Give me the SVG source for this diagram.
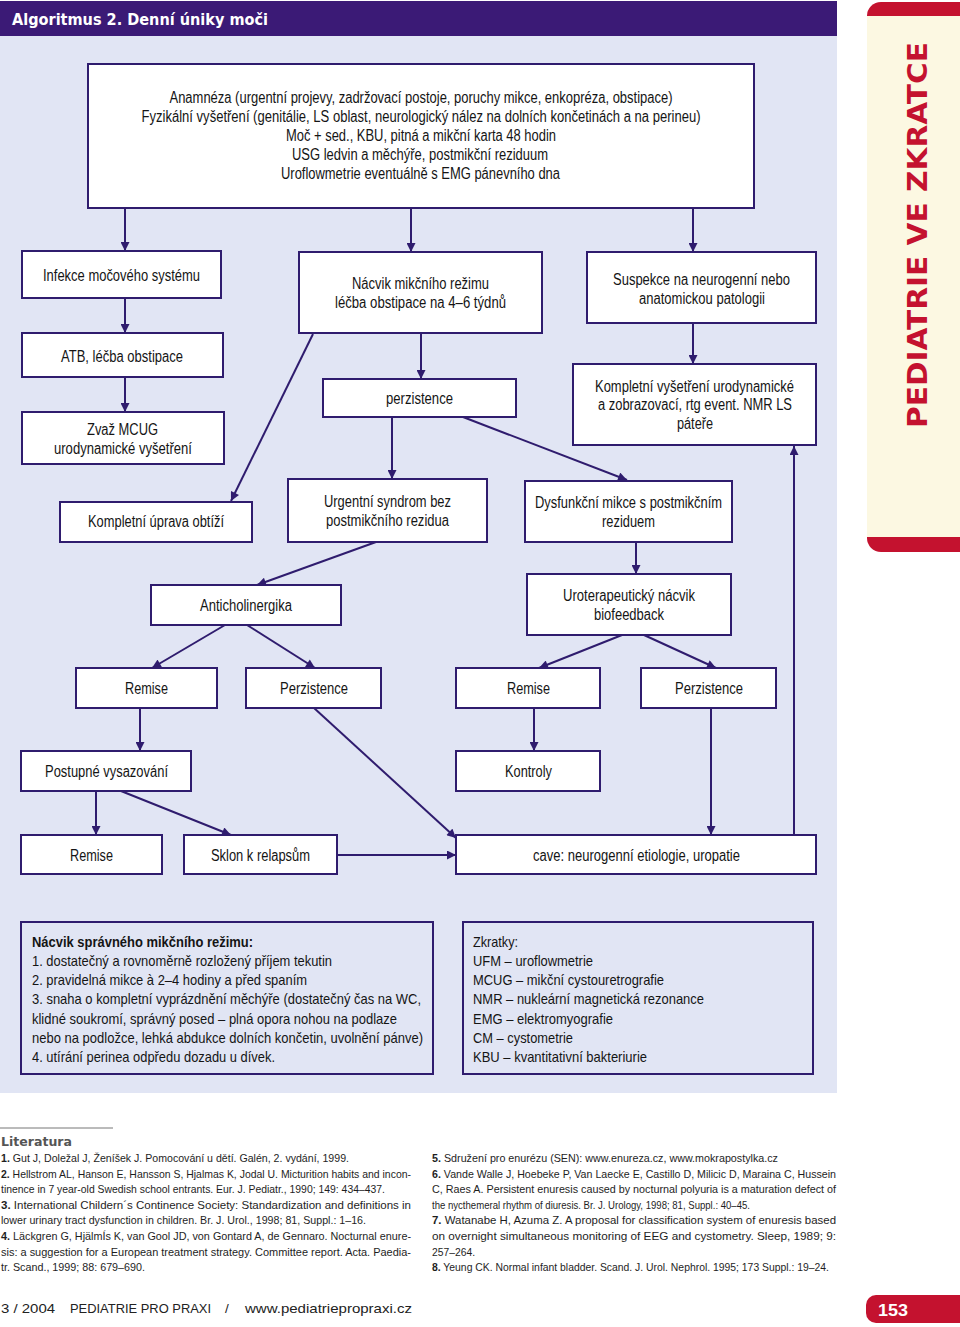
<svg xmlns="http://www.w3.org/2000/svg" width="960" height="1327" viewBox="0 0 960 1327">
<style>
.bx{fill:#fff;stroke:#2f1c6e;stroke-width:2}
.lg{fill:#e1e5f4;stroke:#2f1c6e;stroke-width:2}
.t{font-family:"Liberation Sans",Arial,sans-serif;font-size:15.8px;fill:#151515;text-anchor:middle}
.tl{font-family:"Liberation Sans",Arial,sans-serif;font-size:15px;fill:#151515}
.c{stroke:#2f1c6e;stroke-width:2;fill:none;marker-end:url(#ah)}
.r{font-family:"Liberation Sans",Arial,sans-serif;font-size:11px;fill:#1e1e1e}
.b{font-weight:bold}
.f{font-family:"Liberation Sans",Arial,sans-serif;font-size:13.5px;fill:#222}
</style>
<defs>
<marker id="ah" viewBox="0 0 10 10" refX="10" refY="5" markerUnits="userSpaceOnUse" markerWidth="10" markerHeight="9" orient="auto">
<path d="M0,0 L10,5 L0,10 z" fill="#2f1c6e"/>
</marker>
</defs>
<rect x="0" y="0" width="960" height="1327" fill="#fff"/>
<g id="panel">
<rect x="0" y="36" width="837" height="1057" fill="#e1e5f4"/>
<rect x="0" y="1" width="837" height="35" fill="#3b1a76"/>
<text x="12" y="25" font-family="DejaVu Sans,sans-serif" font-weight="bold" font-size="16" fill="#fff" textLength="256" lengthAdjust="spacingAndGlyphs">Algoritmus 2. Denní úniky moči</text>
</g>
<g id="sidebar">
<path d="M881,2 H960 V552 H881 A14,14 0 0 1 867,538 V16 A14,14 0 0 1 881,2 Z" fill="#c4122f"/>
<rect x="867" y="16" width="93" height="521" fill="#fcf8e2"/>
<text transform="translate(927,428) rotate(-90)" font-family="DejaVu Sans,sans-serif" font-weight="bold" font-size="27" fill="#c4122f" textLength="386" lengthAdjust="spacingAndGlyphs">PEDIATRIE VE ZKRATCE</text>
</g>
<g id="connectors">
<line class="c" x1="125" y1="208" x2="125" y2="251"/>
<line class="c" x1="411" y1="208" x2="411" y2="252"/>
<line class="c" x1="693" y1="208" x2="693" y2="252"/>
<line class="c" x1="125" y1="298" x2="125" y2="333"/>
<line class="c" x1="125" y1="377" x2="125" y2="412"/>
<line class="c" x1="421" y1="333" x2="421" y2="379"/>
<line class="c" x1="313" y1="334" x2="231" y2="501"/>
<line class="c" x1="392" y1="417" x2="392" y2="479"/>
<line class="c" x1="463" y1="417" x2="627" y2="480"/>
<line class="c" x1="693" y1="323" x2="693" y2="364"/>
<line class="c" x1="794" y1="835" x2="794" y2="446"/>
<line class="c" x1="376" y1="542" x2="257" y2="585"/>
<line class="c" x1="636" y1="542" x2="636" y2="574"/>
<line class="c" x1="225" y1="625" x2="152" y2="668"/>
<line class="c" x1="247" y1="625" x2="315" y2="668"/>
<line class="c" x1="622" y1="635" x2="539" y2="668"/>
<line class="c" x1="644" y1="635" x2="716" y2="668"/>
<line class="c" x1="140" y1="708" x2="140" y2="751"/>
<line class="c" x1="534" y1="708" x2="534" y2="751"/>
<line class="c" x1="314" y1="708" x2="456" y2="838"/>
<line class="c" x1="711" y1="708" x2="711" y2="835"/>
<line class="c" x1="96" y1="791" x2="96" y2="835"/>
<line class="c" x1="121" y1="791" x2="231" y2="835"/>
<line class="c" x1="337" y1="855" x2="456" y2="855"/>
</g>
<g id="n-main">
<rect class="bx" x="88" y="64" width="666" height="144"/>
<text class="t" x="421" y="103" textLength="503" lengthAdjust="spacingAndGlyphs">Anamnéza (urgentní projevy, zadržovací postoje, poruchy mikce, enkopréza, obstipace)</text>
<text class="t" x="421" y="122" textLength="559" lengthAdjust="spacingAndGlyphs">Fyzikální vyšetření (genitálie, LS oblast, neurologický nález na dolních končetinách a na perineu)</text>
<text class="t" x="421" y="141" textLength="270" lengthAdjust="spacingAndGlyphs">Moč + sed., KBU, pitná a mikční karta 48 hodin</text>
<text class="t" x="420" y="160" textLength="256" lengthAdjust="spacingAndGlyphs">USG ledvin a měchýře, postmikční reziduum</text>
<text class="t" x="420.5" y="179" textLength="279" lengthAdjust="spacingAndGlyphs">Uroflowmetrie eventuálně s EMG pánevního dna</text>
</g>
<g id="n-infekce">
<rect class="bx" x="22" y="251" width="199" height="47"/>
<text class="t" x="121.5" y="281" textLength="157" lengthAdjust="spacingAndGlyphs">Infekce močového systému</text>
</g>
<g id="n-nacvik">
<rect class="bx" x="299" y="252" width="243" height="81"/>
<text class="t" x="420.5" y="289" textLength="137" lengthAdjust="spacingAndGlyphs">Nácvik mikčního režimu</text>
<text class="t" x="420.5" y="308" textLength="171" lengthAdjust="spacingAndGlyphs">léčba obstipace na 4–6 týdnů</text>
</g>
<g id="n-suspekce">
<rect class="bx" x="587" y="252" width="229" height="71"/>
<text class="t" x="701.5" y="285" textLength="177" lengthAdjust="spacingAndGlyphs">Suspekce na neurogenní nebo</text>
<text class="t" x="702" y="304" textLength="126" lengthAdjust="spacingAndGlyphs">anatomickou patologii</text>
</g>
<g id="n-atb">
<rect class="bx" x="22" y="333" width="201" height="44"/>
<text class="t" x="122" y="362" textLength="122" lengthAdjust="spacingAndGlyphs">ATB, léčba obstipace</text>
</g>
<g id="n-zvaz">
<rect class="bx" x="22" y="412" width="202" height="52"/>
<text class="t" x="122.5" y="435" textLength="71" lengthAdjust="spacingAndGlyphs">Zvaž MCUG</text>
<text class="t" x="123" y="454" textLength="138" lengthAdjust="spacingAndGlyphs">urodynamické vyšetření</text>
</g>
<g id="n-perzistence">
<rect class="bx" x="323" y="379" width="193" height="38"/>
<text class="t" x="419.5" y="404" textLength="67" lengthAdjust="spacingAndGlyphs">perzistence</text>
</g>
<g id="n-kompletni-vys">
<rect class="bx" x="573" y="364" width="243" height="81"/>
<text class="t" x="694.5" y="392" textLength="199" lengthAdjust="spacingAndGlyphs">Kompletní vyšetření urodynamické</text>
<text class="t" x="695" y="410" textLength="194" lengthAdjust="spacingAndGlyphs">a zobrazovací, rtg event. NMR LS</text>
<text class="t" x="695" y="429" textLength="36" lengthAdjust="spacingAndGlyphs">páteře</text>
</g>
<g id="n-uprava">
<rect class="bx" x="60" y="502" width="192" height="40"/>
<text class="t" x="156" y="527" textLength="136" lengthAdjust="spacingAndGlyphs">Kompletní úprava obtíží</text>
</g>
<g id="n-urgentni">
<rect class="bx" x="288" y="479" width="199" height="63"/>
<text class="t" x="387.5" y="507" textLength="127" lengthAdjust="spacingAndGlyphs">Urgentní syndrom bez</text>
<text class="t" x="387.5" y="526" textLength="123" lengthAdjust="spacingAndGlyphs">postmikčního rezidua</text>
</g>
<g id="n-dysfunkcni">
<rect class="bx" x="525" y="481" width="207" height="61"/>
<text class="t" x="628.5" y="508" textLength="187" lengthAdjust="spacingAndGlyphs">Dysfunkční mikce s postmikčním</text>
<text class="t" x="628.5" y="527" textLength="53" lengthAdjust="spacingAndGlyphs">reziduem</text>
</g>
<g id="n-anticholinergika">
<rect class="bx" x="151" y="585" width="190" height="40"/>
<text class="t" x="246" y="611" textLength="92" lengthAdjust="spacingAndGlyphs">Anticholinergika</text>
</g>
<g id="n-uroterapeuticky">
<rect class="bx" x="527" y="574" width="204" height="61"/>
<text class="t" x="629" y="601" textLength="132" lengthAdjust="spacingAndGlyphs">Uroterapeutický nácvik</text>
<text class="t" x="629" y="620" textLength="70" lengthAdjust="spacingAndGlyphs">biofeedback</text>
</g>
<g id="n-remise1">
<rect class="bx" x="76" y="668" width="141" height="40"/>
<text class="t" x="146.5" y="694" textLength="43" lengthAdjust="spacingAndGlyphs">Remise</text>
</g>
<g id="n-perzistence2">
<rect class="bx" x="246" y="668" width="135" height="40"/>
<text class="t" x="314" y="694" textLength="68" lengthAdjust="spacingAndGlyphs">Perzistence</text>
</g>
<g id="n-remise2">
<rect class="bx" x="456" y="668" width="144" height="40"/>
<text class="t" x="528.5" y="694" textLength="43" lengthAdjust="spacingAndGlyphs">Remise</text>
</g>
<g id="n-perzistence3">
<rect class="bx" x="641" y="668" width="135" height="40"/>
<text class="t" x="709" y="694" textLength="68" lengthAdjust="spacingAndGlyphs">Perzistence</text>
</g>
<g id="n-postupne">
<rect class="bx" x="21" y="751" width="170" height="40"/>
<text class="t" x="106.5" y="777" textLength="123" lengthAdjust="spacingAndGlyphs">Postupné vysazování</text>
</g>
<g id="n-kontroly">
<rect class="bx" x="456" y="751" width="144" height="40"/>
<text class="t" x="528.5" y="777" textLength="47" lengthAdjust="spacingAndGlyphs">Kontroly</text>
</g>
<g id="n-remise3">
<rect class="bx" x="21" y="835" width="141" height="39"/>
<text class="t" x="91.5" y="861" textLength="43" lengthAdjust="spacingAndGlyphs">Remise</text>
</g>
<g id="n-sklon">
<rect class="bx" x="184" y="835" width="153" height="39"/>
<text class="t" x="260.5" y="861" textLength="99" lengthAdjust="spacingAndGlyphs">Sklon k relapsům</text>
</g>
<g id="n-cave">
<rect class="bx" x="456" y="835" width="360" height="39"/>
<text class="t" x="636.5" y="861" textLength="207" lengthAdjust="spacingAndGlyphs">cave: neurogenní etiologie, uropatie</text>
</g>
<g id="n-legend-rezim">
<rect class="lg" x="21" y="922" width="412" height="152"/>
<text class="tl b" x="32" y="947" textLength="221" lengthAdjust="spacingAndGlyphs">Nácvik správného mikčního režimu:</text>
<text class="tl" x="32" y="966" textLength="300" lengthAdjust="spacingAndGlyphs">1. dostatečný a rovnoměrně rozložený příjem tekutin</text>
<text class="tl" x="32" y="985" textLength="275" lengthAdjust="spacingAndGlyphs">2. pravidelná mikce à 2–4 hodiny a před spaním</text>
<text class="tl" x="32" y="1004" textLength="389" lengthAdjust="spacingAndGlyphs">3. snaha o kompletní vyprázdnění měchýře (dostatečný čas na WC,</text>
<text class="tl" x="32" y="1023.5" textLength="365" lengthAdjust="spacingAndGlyphs">klidné soukromí, správný posed – plná opora nohou na podlaze</text>
<text class="tl" x="32" y="1043" textLength="391" lengthAdjust="spacingAndGlyphs">nebo na podložce, lehká abdukce dolních končetin, uvolnění pánve)</text>
<text class="tl" x="32" y="1062" textLength="243" lengthAdjust="spacingAndGlyphs">4. utírání perinea odpředu dozadu u dívek.</text>
</g>
<g id="n-legend-zkratky">
<rect class="lg" x="463" y="922" width="350" height="152"/>
<text class="tl" x="473" y="947" textLength="45" lengthAdjust="spacingAndGlyphs">Zkratky:</text>
<text class="tl" x="473" y="966" textLength="120" lengthAdjust="spacingAndGlyphs">UFM – uroflowmetrie</text>
<text class="tl" x="473" y="985" textLength="191" lengthAdjust="spacingAndGlyphs">MCUG – mikční cystouretrografie</text>
<text class="tl" x="473" y="1004" textLength="231" lengthAdjust="spacingAndGlyphs">NMR – nukleární magnetická rezonance</text>
<text class="tl" x="473" y="1023.5" textLength="140" lengthAdjust="spacingAndGlyphs">EMG – elektromyografie</text>
<text class="tl" x="473" y="1043" textLength="100" lengthAdjust="spacingAndGlyphs">CM – cystometrie</text>
<text class="tl" x="473" y="1062" textLength="174" lengthAdjust="spacingAndGlyphs">KBU – kvantitativní bakteriurie</text>
</g>
<g id="literatura">
<line x1="0" y1="1128" x2="113" y2="1128" stroke="#777" stroke-width="1"/>
<text x="1" y="1146" font-family="DejaVu Sans,sans-serif" font-weight="bold" font-size="13" fill="#555" textLength="71" lengthAdjust="spacingAndGlyphs">Literatura</text>
<text class="r" x="1" y="1162" textLength="348" lengthAdjust="spacingAndGlyphs"><tspan class="b">1.</tspan> Gut J, Doležal J, Ženíšek J. Pomocování u dětí. Galén, 2. vydání, 1999.</text>
<text class="r" x="1" y="1177.6" textLength="410" lengthAdjust="spacingAndGlyphs"><tspan class="b">2.</tspan> Hellstrom AL, Hanson E, Hansson S, Hjalmas K, Jodal U. Micturition habits and incon-</text>
<text class="r" x="1" y="1193.2" textLength="384" lengthAdjust="spacingAndGlyphs">tinence in 7 year-old Swedish school entrants. Eur. J. Pediatr., 1990; 149: 434–437.</text>
<text class="r" x="1" y="1208.8" textLength="410" lengthAdjust="spacingAndGlyphs"><tspan class="b">3.</tspan> International Childern´s Continence Society: Standardization and definitions in</text>
<text class="r" x="1" y="1224.4" textLength="365" lengthAdjust="spacingAndGlyphs">lower urinary tract dysfunction in children. Br. J. Urol., 1998; 81, Suppl.: 1–16.</text>
<text class="r" x="1" y="1240" textLength="410" lengthAdjust="spacingAndGlyphs"><tspan class="b">4.</tspan> Läckgren G, HjälmÍs K, van Gool JD, von Gontard A, de Gennaro. Nocturnal enure-</text>
<text class="r" x="1" y="1255.6" textLength="410" lengthAdjust="spacingAndGlyphs">sis: a suggestion for a European treatment strategy. Committee report. Acta. Paedia-</text>
<text class="r" x="1" y="1271.2" textLength="144" lengthAdjust="spacingAndGlyphs">tr. Scand., 1999; 88: 679–690.</text>
<text class="r" x="432" y="1162" textLength="346" lengthAdjust="spacingAndGlyphs"><tspan class="b">5.</tspan> Sdružení pro enurézu (SEN): www.enureza.cz, www.mokrapostylka.cz</text>
<text class="r" x="432" y="1177.6" textLength="404" lengthAdjust="spacingAndGlyphs"><tspan class="b">6.</tspan> Vande Walle J, Hoebeke P, Van Laecke E, Castillo D, Milicic D, Maraina C, Hussein</text>
<text class="r" x="432" y="1193.2" textLength="404" lengthAdjust="spacingAndGlyphs">C, Raes A. Persistent enuresis caused by nocturnal polyuria is a maturation defect of</text>
<text class="r" x="432" y="1208.8" textLength="318" lengthAdjust="spacingAndGlyphs">the nycthemeral rhythm of diuresis. Br. J. Urology, 1998; 81, Suppl.: 40–45.</text>
<text class="r" x="432" y="1224.4" textLength="404" lengthAdjust="spacingAndGlyphs"><tspan class="b">7.</tspan> Watanabe H, Azuma Z. A proposal for classification system of enuresis based</text>
<text class="r" x="432" y="1240" textLength="404" lengthAdjust="spacingAndGlyphs">on overnight simultaneous monitoring of EEG and cystometry. Sleep, 1989; 9:</text>
<text class="r" x="432" y="1255.6" textLength="43" lengthAdjust="spacingAndGlyphs">257–264.</text>
<text class="r" x="432" y="1271.2" textLength="397" lengthAdjust="spacingAndGlyphs"><tspan class="b">8.</tspan> Yeung CK. Normal infant bladder. Scand. J. Urol. Nephrol. 1995; 173 Suppl.: 19–24.</text>
</g>
<g id="footer">
<text class="f" x="1" y="1313" textLength="54" lengthAdjust="spacingAndGlyphs">3 / 2004</text>
<text class="f" x="70" y="1313" textLength="141" lengthAdjust="spacingAndGlyphs">PEDIATRIE PRO PRAXI</text>
<text class="f" x="225" y="1313">/</text>
<text class="f" x="245" y="1313" textLength="167" lengthAdjust="spacingAndGlyphs">www.pediatriepropraxi.cz</text>
<path d="M876,1295 H960 V1323 H876 A10,10 0 0 1 866,1313 V1305 A10,10 0 0 1 876,1295 Z" fill="#c4122f"/>
<text x="878" y="1316" font-family="Liberation Sans,Arial,sans-serif" font-weight="bold" font-size="17" fill="#fff" textLength="30" lengthAdjust="spacingAndGlyphs">153</text>
</g>
</svg>
